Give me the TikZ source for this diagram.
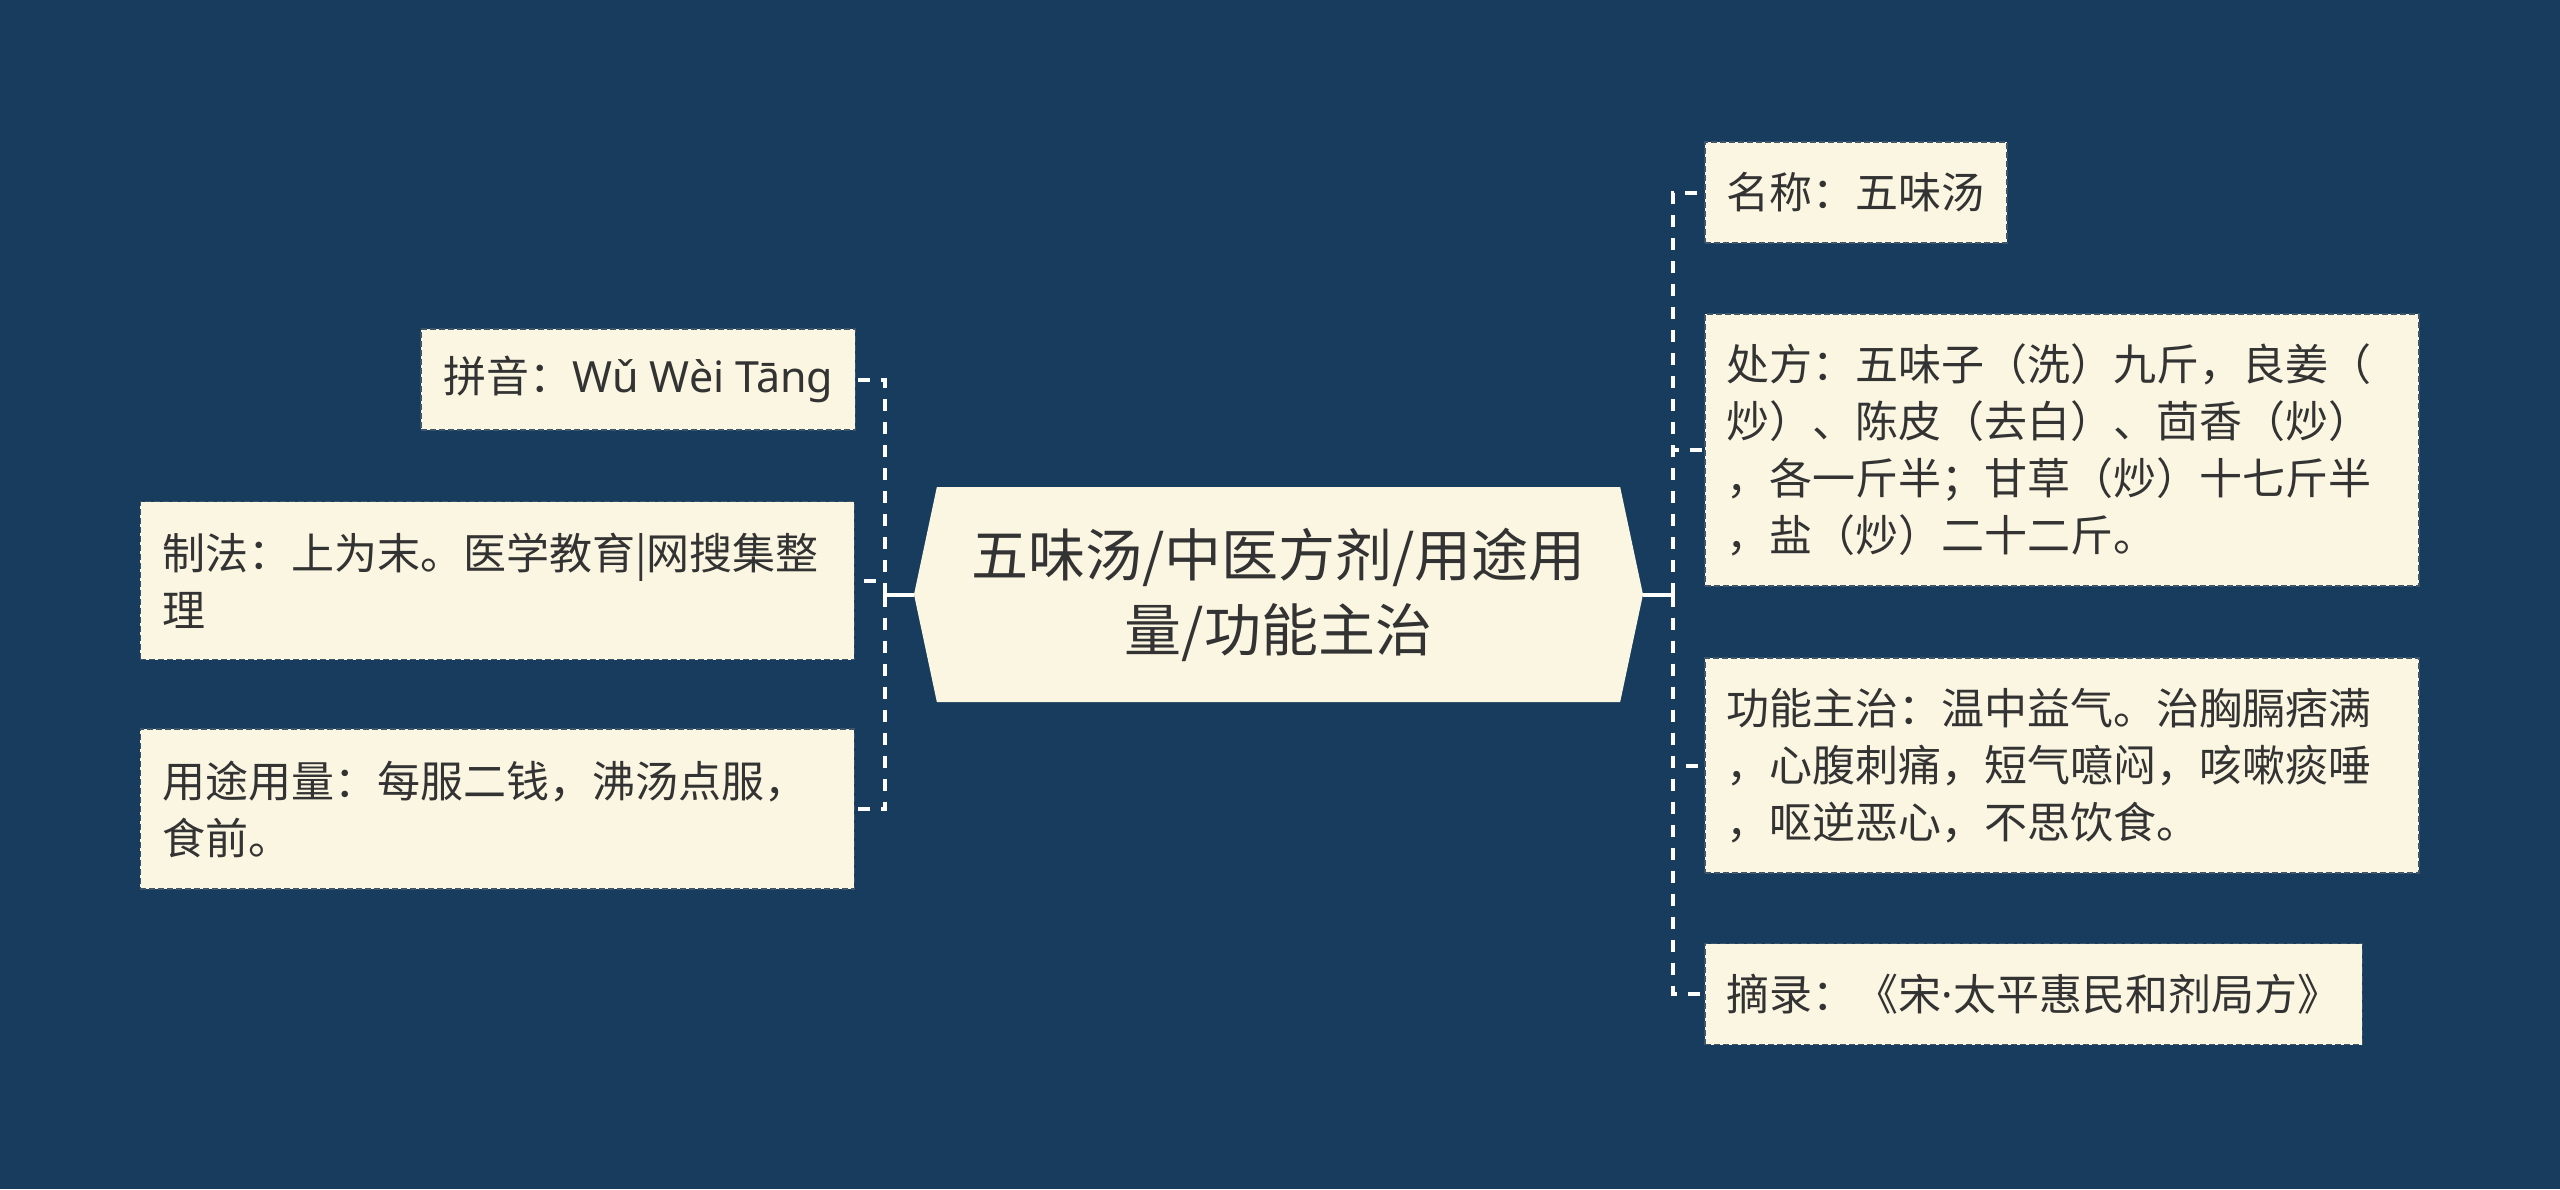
\documentclass[tikz,border=0pt]{standalone}
\usepackage{fontspec}
\setmainfont{Noto Sans CJK SC}
\newfontfamily\latinfont{Noto Sans}
\usetikzlibrary{shapes.symbols}
\definecolor{navy}{HTML}{173C5D}
\definecolor{cream}{HTML}{FAF6E2}
\definecolor{ink}{HTML}{333333}
\definecolor{rim}{HTML}{3E5468}
\tikzset{
  leaf/.style={fill=cream, draw=rim, line width=1.5pt, dash pattern=on 6pt off 3pt,
    inner xsep=22pt, inner ysep=0pt, text=ink, align=left,
    font=\fontsize{43}{57}\selectfont},
  wideleaf/.style={leaf, text width=670pt},
  hub/.style={signal, signal to=east and west, signal pointer angle=156,
    fill=cream, text=ink, minimum width=729pt, minimum height=215pt, inner sep=0pt,
    align=center, font=\fontsize{57}{75}\selectfont},
  stem/.style={white, line width=4pt},
  branch/.style={white, line width=4pt, dash pattern=on 12pt off 11pt}
}
\begin{document}
\begin{tikzpicture}[x=1pt, y=-1pt]

\fill[navy] (0,0) rectangle (2560,1189);
\useasboundingbox (0,0) rectangle (2560,1189);

% centre
\node[hub] (root) at (1278.5,594.5) {五味汤/中医方剂/用途用\\量/功能主治};
\coordinate (jl) at (885,594.5);
\coordinate (jr) at (1673,594.5);

% left side
\node[leaf, minimum height=101pt, anchor=east] (py) at (856,379.5) {拼音：{\latinfont Wǔ Wèi Tāng}};
\node[wideleaf, minimum height=158pt, anchor=east] (zf) at (855,580.5)
  {制法：上为末。医学教育|网搜集整\\理};
\node[wideleaf, minimum height=160pt, anchor=east] (yt) at (855,809)
  {用途用量：每服二钱，沸汤点服，\\食前。};

% right side
\node[leaf, minimum height=101pt, anchor=west] (mc) at (1704,192.5) {名称：五味汤};
\node[wideleaf, minimum height=272pt, anchor=west] (cf) at (1704,450)
  {处方：五味子（洗）九斤，良姜（\\炒）、陈皮（去白）、茴香（炒）\\，各一斤半；甘草（炒）十七斤半\\，盐（炒）二十二斤。};
\node[wideleaf, minimum height=215pt, anchor=west] (gn) at (1704,765.5)
  {功能主治：温中益气。治胸膈痞满\\，心腹刺痛，短气噫闷，咳嗽痰唾\\，呕逆恶心，不思饮食。};
\node[leaf, minimum height=101pt, anchor=west] (zl) at (1704,994) {摘录：《宋{\latinfont ·}太平惠民和剂局方》};

\draw[stem] (root.west) -- (jl);
\draw[stem] (root.east) -- (jr);
\foreach \n in {py,zf,yt} \draw[branch] (jl) |- (\n.east);
\foreach \n in {mc,cf,gn,zl} \draw[branch] (jr) |- (\n.west);

\end{tikzpicture}
\end{document}
